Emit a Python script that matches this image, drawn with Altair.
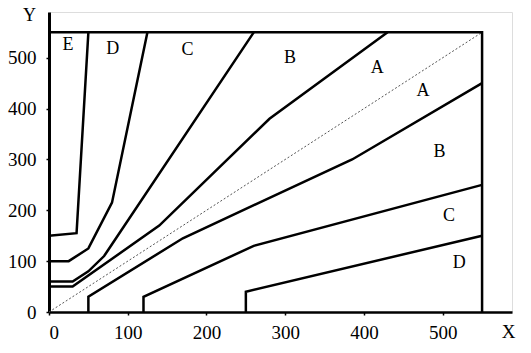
import altair as alt
import pandas as pd

# Zone boundary lines (Parkes-style error grid)
a_upper_x = [0, 30, 140, 280, 430]
a_upper_y = [50, 50, 170, 380, 550]
a_lower_x = [50, 50, 170, 385, 550]
a_lower_y = [0, 30, 145, 300, 450]
b_upper_x = [0, 30, 50, 70, 260]
b_upper_y = [60, 60, 80, 110, 550]
b_lower_x = [120, 120, 260, 550]
b_lower_y = [0, 30, 130, 250]
c_upper_x = [0, 25, 50, 80, 125]
c_upper_y = [100, 100, 125, 215, 550]
c_lower_x = [250, 250, 550]
c_lower_y = [0, 40, 150]
d_upper_x = [0, 35, 50]
d_upper_y = [150, 155, 550]
border_x = [0, 550, 550]
border_y = [550, 550, 0]

diag_x = [0, 550]
diag_y = [0, 550]

zone_labels = ["E", "D", "C", "B", "A", "A", "B", "C", "D"]
zone_x = [24, 81, 176, 306, 417, 475, 496, 508, 521]
zone_y = [525, 518, 516, 500, 479, 435, 315, 189, 96]

x_ticks = [0, 100, 200, 300, 400, 500]
y_ticks = [0, 100, 200, 300, 400, 500]

series = [
    ("a_up", a_upper_x, a_upper_y), ("a_lo", a_lower_x, a_lower_y),
    ("b_up", b_upper_x, b_upper_y), ("b_lo", b_lower_x, b_lower_y),
    ("c_up", c_upper_x, c_upper_y), ("c_lo", c_lower_x, c_lower_y),
    ("d_up", d_upper_x, d_upper_y), ("border", border_x, border_y),
]
rows = []
for name, xs_, ys_ in series:
    for i, (xv, yv) in enumerate(zip(xs_, ys_)):
        rows.append({"line": name, "i": i, "x": xv, "y": yv})
lines_df = pd.DataFrame(rows)
diag_df = pd.DataFrame({"x": diag_x, "y": diag_y, "i": [0, 1]})
lab_df = pd.DataFrame({"t": zone_labels, "x": zone_x, "y": zone_y})

FONT = "Liberation Serif"
xs = alt.Scale(domain=[0, 588], nice=False, zero=False)
ys = alt.Scale(domain=[0, 590], nice=False, zero=False)

x_axis = alt.Axis(values=x_ticks, grid=False, title="X", titleAngle=0,
                  titleX=459, titleY=19, titleAlign="center", titleBaseline="middle",
                  titleFont=FONT, titleFontSize=19, titleFontWeight="normal",
                  labelFont=FONT, labelFontSize=19, labelColor="black",
                  tickSize=3, tickColor="black", tickWidth=1.5,
                  domainColor="black", domainWidth=2.5, labelPadding=8)
y_axis = alt.Axis(values=y_ticks, grid=False, title="Y", titleAngle=0,
                  titleX=-20, titleY=3, titleAlign="center", titleBaseline="middle",
                  titleFont=FONT, titleFontSize=18, titleFontWeight="normal",
                  labelFont=FONT, labelFontSize=19, labelColor="black",
                  tickSize=3, tickColor="black", tickWidth=1.5,
                  domainColor="black", domainWidth=3, labelPadding=10)

lines = alt.Chart(lines_df).mark_line(color="black", strokeWidth=2.5, strokeJoin="miter").encode(
    x=alt.X("x:Q", scale=xs, axis=x_axis),
    y=alt.Y("y:Q", scale=ys, axis=y_axis),
    detail="line:N",
    order="i:Q",
)
diag = alt.Chart(diag_df).mark_line(color="#555555", strokeWidth=1, strokeDash=[2, 2]).encode(
    x=alt.X("x:Q", scale=xs), y=alt.Y("y:Q", scale=ys), order="i:Q"
)
labels = alt.Chart(lab_df).mark_text(font=FONT, fontSize=18, color="black").encode(
    x=alt.X("x:Q", scale=xs), y=alt.Y("y:Q", scale=ys), text="t:N"
)

chart = alt.layer(diag, lines, labels).properties(
    width=463, height=300,
    autosize=alt.AutoSizeParams(type="none"),
    padding={"left": 49, "top": 12, "right": 19, "bottom": 41},
).configure_view(stroke=None).configure(background="white")

chart.save("out.html", embed_options={"renderer": "svg", "actions": False})
